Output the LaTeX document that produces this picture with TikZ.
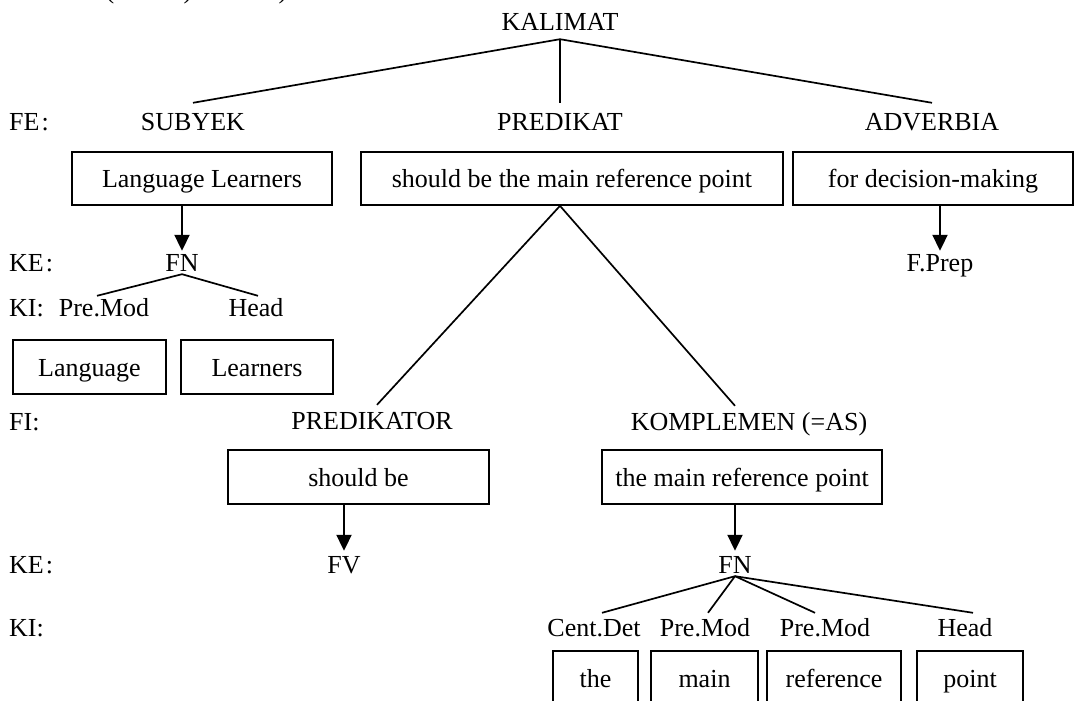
\documentclass[tikz,border=0pt]{standalone}
\usepackage{fontspec}
\setmainfont{Liberation Serif}
\usetikzlibrary{arrows.meta,calc}
\begin{document}
\begin{tikzpicture}[x=1pt,y=-1pt,
 txt/.style={font=\fontsize{26}{30}\selectfont, inner sep=0pt, text height=18pt, text depth=3pt, anchor=base},
 lft/.style={txt, anchor=base west},
 box/.style={draw, line width=1.7pt, font=\fontsize{26}{30}\selectfont, inner sep=0pt, text height=18pt, text depth=0pt, minimum height=53pt},
 ln/.style={line width=1.7pt},
 arr/.style={line width=2pt, -{Triangle[length=16pt,width=15pt]}}]
\useasboundingbox (0,0) rectangle (1074,701);
\clip (0,0) rectangle (1074,701);
% fragments of the cut-off line above
\node[txt] (p1) at (110,-1.5) {(};
\node[txt] (p2) at (188,-1.5) {)};
\node[txt] (p3) at (283,-1.5) {)};
% top
\node[txt] (kal) at (560,31) {KALIMAT};
\node[lft] (fe) at (9,130) {FE\kern2pt:};
\node[txt] (sub) at (193,130) {SUBYEK};
\node[txt] (pred) at (560,130) {PREDIKAT};
\node[txt] (adv) at (932,130) {ADVERBIA};
\node[box, minimum width=260pt] (b1) at (202,178.5) {Language Learners};
\node[box, minimum width=422pt] (b2) at (572,178.5) {should be the main reference point};
\node[box, minimum width=280pt] (b3) at (933,178.5) {for decision-making};
% subject subtree
\node[lft] (ke1) at (9,271) {KE\kern2pt:};
\node[txt] (fn1) at (182,271) {FN};
\node[txt] (fprep) at (940,271) {F.Prep};
\node[lft] (ki1) at (9,316) {KI:};
\node[txt] (pm1) at (104,316) {Pre.Mod};
\node[txt] (hd1) at (256,316) {Head};
\node[box, minimum width=153pt, minimum height=54pt] (w1) at (89.5,367) {Language};
\node[box, minimum width=152pt, minimum height=54pt] (w2) at (257,367) {Learners};
% predicate subtree
\node[lft] (fi) at (9,430) {FI:};
\node[txt] (pkr) at (372,429) {PREDIKATOR};
\node[txt] (kom) at (749,430) {KOMPLEMEN (=AS)};
\node[box, minimum width=261pt, minimum height=54pt] (b4) at (358.5,477) {should be};
\node[box, minimum width=280pt, minimum height=54pt] (b5) at (742,477) {the main reference point};
\node[lft] (ke2) at (9,573) {KE\kern2pt:};
\node[txt] (fv) at (344,573) {FV};
\node[txt] (fn2) at (735,573) {FN};
\node[lft] (ki2) at (9,636) {KI:};
\node[txt] (cd) at (594,636) {Cent.Det};
\node[txt] (pm2) at (705,636) {Pre.Mod};
\node[txt] (pm3) at (825,636) {Pre.Mod};
\node[txt] (hd2) at (965,636) {Head};
\node[box, minimum width=85pt, minimum height=54pt] (c1) at (595.5,678) {the};
\node[box, minimum width=107pt, minimum height=54pt] (c2) at (704.5,678) {main};
\node[box, minimum width=134pt, minimum height=54pt] (c3) at (834,678) {reference};
\node[box, minimum width=106pt, minimum height=54pt] (c4) at (970,678) {point};
% connectors
\draw[ln] ([yshift=-5pt]kal.south) -- ([yshift=9pt]sub.north);
\draw[ln] ([yshift=-5pt]kal.south) -- ([yshift=9pt]pred.north);
\draw[ln] ([yshift=-5pt]kal.south) -- ([yshift=9pt]adv.north);
\draw[arr] (fn1.north |- b1.south) -- ([yshift=2pt]fn1.north);
\draw[arr] (fprep.north |- b3.south) -- ([yshift=2pt]fprep.north);
\draw[ln] (fn1.south) -- ([xshift=-7pt,yshift=2pt]pm1.north);
\draw[ln] (fn1.south) -- ([xshift=2pt,yshift=2pt]hd1.north);
\draw[ln] (pred.south |- b2.south) -- ([xshift=5pt,yshift=6pt]pkr.north);
\draw[ln] (pred.south |- b2.south) -- ($(fn2.north |- kom.north)+(0pt,6pt)$);
\draw[arr] (fv.north |- b4.south) -- ([yshift=4pt]fv.north);
\draw[arr] (fn2.north |- b5.south) -- ([yshift=4pt]fn2.north);
\draw[ln] (fn2.south) -- ([xshift=8pt,yshift=5pt]cd.north);
\draw[ln] (fn2.south) -- ([xshift=3pt,yshift=5pt]pm2.north);
\draw[ln] (fn2.south) -- ([xshift=-10pt,yshift=5pt]pm3.north);
\draw[ln] (fn2.south) -- ([xshift=8pt,yshift=5pt]hd2.north);
\end{tikzpicture}
\end{document}
